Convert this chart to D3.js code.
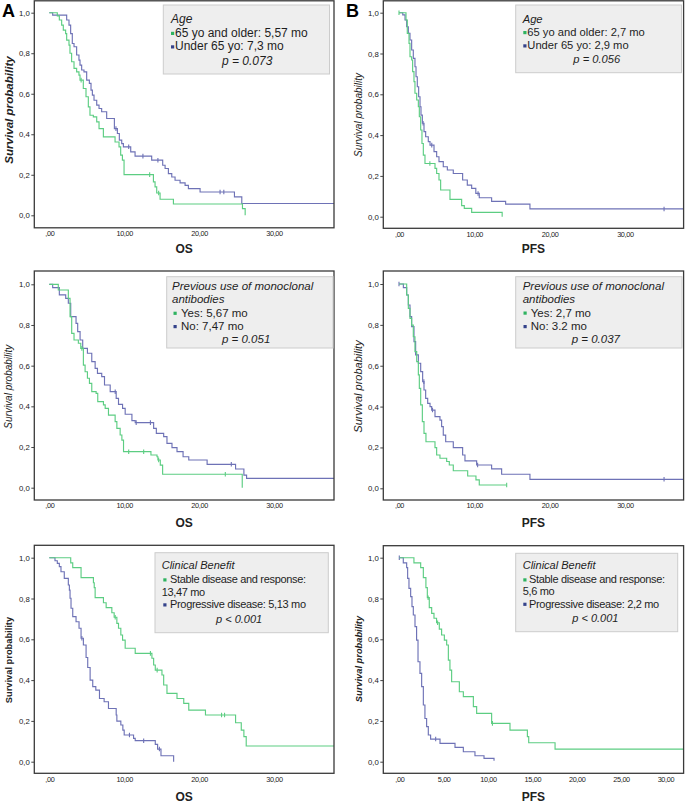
<!DOCTYPE html>
<html><head><meta charset="utf-8">
<script src="https://cdn.jsdelivr.net/npm/d3@7"></script>
<style>body{margin:0;background:#fff}svg{display:block}</style>
</head><body><svg id="c" width="685" height="802"></svg>
<script>
// ---------------- DATA ----------------
// step points: [time (months), survival after the drop]
const osOld = [[1.07,0.984],[1.34,0.964],[1.65,0.939],[1.87,0.914],[2.18,0.897],[2.32,0.865],[2.63,0.84],[2.76,0.8],[2.98,0.758],[3.3,0.725],[3.65,0.708],[3.96,0.692],[4.1,0.667],[4.54,0.626],[4.9,0.585],[5.21,0.535],[5.43,0.494],[5.88,0.486],[6.33,0.461],[6.64,0.428],[7.22,0.387],[8.78,0.362],[9.31,0.338],[9.53,0.297],[9.76,0.272],[9.98,0.201],[13.9,0.165],[14.12,0.14],[14.34,0.11],[14.79,0.079],[16.57,0.056],[25.79,0.033],[26.15,0]];
const osOldCens = [4.25,13.4,14.6];
const osYoung = [[0.45,0.988],[2.32,0.964],[2.63,0.939],[2.85,0.897],[3.07,0.848],[3.3,0.832],[3.65,0.791],[3.96,0.766],[4.1,0.741],[4.32,0.717],[4.63,0.708],[4.99,0.667],[5.35,0.651],[5.57,0.618],[5.75,0.593],[5.97,0.568],[6.33,0.544],[6.64,0.527],[6.99,0.511],[7.66,0.478],[8.69,0.428],[9.09,0.404],[9.35,0.371],[9.67,0.354],[9.89,0.338],[10.87,0.313],[11.45,0.292],[13.67,0.272],[15.14,0.247],[15.46,0.231],[15.9,0.206],[16.35,0.189],[16.79,0.173],[17.46,0.16],[18.13,0.148],[18.57,0.132],[20.13,0.115],[24.72,0.091],[25.7,0.058],[40,0.058]];
const osYoungCens = [8.9,10.6,12.5,14.5,22.8,23.3];

const pfsOld = [[0.93,0.964],[1.1,0.899],[1.33,0.85],[1.46,0.784],[1.68,0.768],[1.81,0.711],[1.99,0.662],[2.12,0.605],[2.35,0.572],[2.57,0.539],[2.7,0.49],[2.88,0.425],[3.05,0.359],[3.23,0.302],[3.45,0.261],[4.78,0.237],[5.0,0.212],[5.31,0.18],[5.53,0.131],[6.77,0.085],[8.32,0.054],[8.67,0.041],[9.65,0.021],[13.7,0]];
const pfsOldCens = [0,4.1];
const pfsYoung = [[0.5,0.989],[0.8,0.964],[1.02,0.931],[1.24,0.899],[1.46,0.866],[1.68,0.817],[1.9,0.776],[2.12,0.735],[2.26,0.686],[2.43,0.637],[2.61,0.588],[2.79,0.539],[2.92,0.498],[3.1,0.458],[3.32,0.417],[3.54,0.392],[3.89,0.368],[4.12,0.351],[4.65,0.319],[5.0,0.294],[5.31,0.27],[5.88,0.245],[6.42,0.229],[7.21,0.212],[8.45,0.18],[9.07,0.155],[9.65,0.139],[10.2,0.114],[10.66,0.093],[12.3,0.075],[14.16,0.062],[17.39,0.038],[40,0.038]];
const pfsYoungCens = [3.2,4.35,10.5,35.2];

const osMabYes = [[1.2,0.972],[2.54,0.931],[2.77,0.841],[2.99,0.759],[3.3,0.726],[3.88,0.71],[4.2,0.685],[4.55,0.603],[4.78,0.57],[5.09,0.538],[5.36,0.513],[5.67,0.472],[6.25,0.464],[6.47,0.423],[7.23,0.407],[7.46,0.39],[7.9,0.357],[8.79,0.325],[9.02,0.292],[9.46,0.259],[9.69,0.234],[9.91,0.177],[13.57,0.161],[14.38,0.152],[14.5,0.136],[14.82,0.111],[15.13,0.066],[25.76,0]];
const osMabYesCens = [4.35,10.6,12.6,14.6,23.5];
const osMabNo = [[0.45,0.984],[1.34,0.948],[2.19,0.931],[2.54,0.907],[2.86,0.841],[3.57,0.808],[3.79,0.767],[4.11,0.726],[4.46,0.685],[5.09,0.661],[5.67,0.62],[6.12,0.587],[6.43,0.562],[7.0,0.546],[7.37,0.505],[8.13,0.472],[8.93,0.439],[9.24,0.41],[9.78,0.39],[10.13,0.361],[11.03,0.33],[11.47,0.32],[13.93,0.292],[14.29,0.267],[15.27,0.251],[15.71,0.218],[16.38,0.197],[17.05,0.177],[17.86,0.152],[18.62,0.136],[21.07,0.115],[24.87,0.092],[25.98,0.062],[26.34,0.046],[40,0.046]];
const osMabNoCens = [8.8,11.6,13.5,24.3];

const pfsMabYes = [[1.02,0.946],[1.24,0.881],[1.46,0.832],[1.68,0.799],[1.9,0.742],[2.12,0.669],[2.35,0.62],[2.57,0.555],[2.7,0.489],[2.88,0.408],[3.1,0.326],[3.32,0.269],[3.58,0.228],[4.78,0.199],[5.0,0.163],[5.44,0.147],[6.33,0.131],[6.68,0.114],[7.21,0.086],[9.12,0.06],[10.22,0.041],[10.66,0.016],[14.3,0.016]];
const pfsMabYesCens = [14.3];
const pfsMabNo = [[0.58,0.982],[1.02,0.946],[1.24,0.897],[1.46,0.84],[1.68,0.791],[1.99,0.718],[2.21,0.653],[2.57,0.612],[2.88,0.571],[3.14,0.522],[3.32,0.481],[3.54,0.44],[3.81,0.416],[4.12,0.4],[4.34,0.383],[4.78,0.351],[5.44,0.334],[5.66,0.302],[5.88,0.26],[6.2,0.228],[7.21,0.199],[8.45,0.163],[8.76,0.134],[10.31,0.114],[12.3,0.095],[13.63,0.069],[17.39,0.044],[40,0.044]];
const pfsMabNoCens = [0,3.3,4.45,10.44,35.2];

const osCbYes = [[2.86,0.975],[3.13,0.951],[4.24,0.902],[5.89,0.877],[6.0,0.853],[6.12,0.804],[7.23,0.779],[7.59,0.755],[8.35,0.73],[8.66,0.708],[9.02,0.678],[9.24,0.654],[9.55,0.621],[9.78,0.596],[10.13,0.556],[11.47,0.531],[13.7,0.507],[13.93,0.474],[14.15,0.449],[15.04,0.425],[15.27,0.376],[15.71,0.335],[17.05,0.31],[17.95,0.286],[18.62,0.253],[20.85,0.229],[24.87,0.191],[25.63,0.155],[25.98,0.123],[26.29,0.077],[40,0.077]];
const osCbYesCens = [8.8,13.5,14.4,23.0,23.4];
const osCbNo = [[0.76,0.985],[1.07,0.972],[1.34,0.956],[1.56,0.931],[2.0,0.899],[2.54,0.866],[2.68,0.841],[2.77,0.801],[2.9,0.752],[3.13,0.711],[3.57,0.686],[3.97,0.654],[4.24,0.605],[4.55,0.572],[4.91,0.511],[5.13,0.462],[5.45,0.4],[5.8,0.368],[6.21,0.351],[6.7,0.31],[7.32,0.294],[7.9,0.261],[8.93,0.229],[9.02,0.199],[9.55,0.18],[9.82,0.155],[10.0,0.131],[11.25,0.114],[11.47,0.103],[14.15,0.085],[14.46,0.062],[14.91,0.029],[16.6,0]];
const osCbNoCens = [4.35,10.7,12.6,14.7];

const pfsCbYes = [[1.65,0.975],[2.41,0.951],[2.71,0.902],[3.0,0.853],[3.16,0.804],[3.38,0.755],[3.65,0.727],[3.91,0.703],[4.2,0.681],[4.51,0.65],[4.77,0.621],[5.08,0.596],[5.34,0.572],[5.53,0.498],[5.71,0.449],[5.9,0.392],[6.77,0.343],[7.22,0.319],[8.35,0.27],[8.72,0.237],[10.41,0.188],[12.48,0.155],[14.44,0.123],[14.59,0.093],[17.56,0.062],[40,0.062]];
const pfsCbYesCens = [3.25,4.32,10.5];
const pfsCbNo = [[0.45,0.975],[0.83,0.951],[0.94,0.899],[1.09,0.85],[1.28,0.809],[1.43,0.76],[1.58,0.719],[1.77,0.662],[1.95,0.596],[2.11,0.49],[2.33,0.433],[2.52,0.368],[2.71,0.278],[2.89,0.212],[3.08,0.172],[3.27,0.131],[3.53,0.111],[4.59,0.09],[6.28,0.07],[7.22,0.049],[8.53,0.029],[9.55,0.016],[10.68,0.005]];
const pfsCbNoCens = [0,4.1];

const yTickVals = [0,0.2,0.4,0.6,0.8,1.0];
const yTickText = ["0,0","0,2","0,4","0,6","0,8","1,0"];
const xTickValsMain = [0,10,20,30];
const xTickTextMain = [",00","10,00","20,00","30,00"];
const xTickValsCb = [0,5,10,15,20,25,30];
const xTickTextCb = [",00","5,00","10,00","15,00","20,00","25,00","30,00"];

const legAgeOs = ["Age","65 yo and older: 5,57 mo","Under 65 yo: 7,3 mo","p = 0.073"];
const legAgePfs = ["Age","65 yo and older: 2,7 mo","Under 65 yo: 2,9 mo","p = 0.056"];
const legMabOs = ["Previous use of monoclonal","antibodies","Yes: 5,67 mo","No: 7,47 mo","p = 0.051"];
const legMabPfs = ["Previous use of monoclonal","antibodies","Yes: 2,7 mo","No: 3.2 mo","p = 0.037"];
const legCbOs = ["Clinical Benefit","Stable disease and response:","13,47 mo","Progressive disease: 5,13 mo","p < 0.001"];
const legCbPfs = ["Clinical Benefit","Stable disease and response:","5,6 mo","Progressive disease: 2,2 mo","p < 0.001"];
const kindsAge = ["t","g","b","p"];
const kindsMab = ["t","t","g","b","p"];
const kindsCb = ["t","g","c","b","p"];

// ---------------- LAYOUT ----------------
const FONT = "'Liberation Sans', Arial, Helvetica, sans-serif";
const GREEN = "#5ccd82", BLUE = "#6e72b6";
const GREEN_M = "#2fb360", BLUE_M = "#34428a";

const panels = [
 {fr:[34.3,0.8,334,227.8], xr:[49.3,49.3+7.49*38], xd:[0,38], yr:[215.3,12.7], xt:xTickValsMain, xl:xTickTextMain, title:"OS", tY:252.5,
  g:osOld, gc:osOldCens, b:osYoung, bc:osYoungCens,
  leg:legAgeOs, kinds:kindsAge, box:[163.3,5,329.5,74], tx:171, mx:171, ix:175, base:[23,36.8,50.3,64.5], px:222, fs:12, ls:0,
  yl:{x:8.5,y:110,size:11.6,weight:"bold",style:"italic"}},
 {fr:[383.3,0.8,683.6,228.3], xr:[399,399+7.53*38], xd:[0,38], yr:[216.7,12.7], xt:xTickValsMain, xl:xTickTextMain, title:"PFS", tY:253,
  g:pfsOld, gc:pfsOldCens, b:pfsYoung, bc:pfsYoungCens,
  leg:legAgePfs, kinds:kindsAge, box:[515.7,5,681.5,72.7], tx:522.7, mx:523.3, ix:527.3, base:[23,36,49.3,63.3], px:573.3, fs:11.2, ls:0,
  yl:{x:358.3,y:115,size:10,weight:"normal",style:"italic"}},
 {fr:[34.3,271,334,500], xr:[49.3,49.3+7.49*38], xd:[0,38], yr:[487.7,284.3], xt:xTickValsMain, xl:xTickTextMain, title:"OS", tY:526.7,
  g:osMabYes, gc:osMabYesCens, b:osMabNo, bc:osMabNoCens,
  leg:legMabOs, kinds:kindsMab, box:[166.7,276.7,333,348], tx:172, mx:173.5, ix:181, base:[290,303,316.7,330,343.3], px:222, fs:11.5, ls:0,
  yl:{x:8.5,y:386.7,size:10,weight:"normal",style:"italic"}},
 {fr:[383.3,271,683.6,500], xr:[399,399+7.53*38], xd:[0,38], yr:[488.3,284], xt:xTickValsMain, xl:xTickTextMain, title:"PFS", tY:526.7,
  g:pfsMabYes, gc:pfsMabYesCens, b:pfsMabNo, bc:pfsMabNoCens,
  leg:legMabPfs, kinds:kindsMab, box:[515.7,276.7,682,348], tx:522.7, mx:523.5, ix:530.7, base:[290,303,316.5,330,343], px:571.7, fs:11.5, ls:0,
  yl:{x:358.3,y:386.5,size:11,weight:"normal",style:"italic"}},
 {fr:[34.3,545.3,334,773.3], xr:[49.3,49.3+7.49*38], xd:[0,38], yr:[761.7,557.7], xt:xTickValsMain, xl:xTickTextMain, title:"OS", tY:800.5,
  g:osCbYes, gc:osCbYesCens, b:osCbNo, bc:osCbNoCens,
  leg:legCbOs, kinds:kindsCb, box:[155,552.7,328.3,632.7], tx:161.7, mx:163.3, ix:170, base:[569.3,583.3,595.7,608.3,622.7], px:216, fs:11, ls:-0.33,
  yl:{x:8.5,y:660,size:9.3,weight:"bold",style:"normal"}},
 {fr:[383.3,545.7,683.6,773.3], xr:[399.3,399.3+8.87*32], xd:[0,32], yr:[761.7,557.7], xt:xTickValsCb, xl:xTickTextCb, title:"PFS", tY:800.5,
  g:pfsCbYes, gc:pfsCbYesCens, b:pfsCbNo, bc:pfsCbNoCens,
  leg:legCbPfs, kinds:kindsCb, box:[515.7,553.3,677.7,631.7], tx:522.7, mx:523.3, ix:529, base:[569.3,583.3,595.3,607.7,621.7], px:572.3, fs:11, ls:-0.33,
  yl:{x:358.3,y:659,size:9.3,weight:"bold",style:"italic"}}
];

const svg = d3.select("#c");
svg.append("rect").attr("width",685).attr("height",802).attr("fill","#fff");

function survAt(steps,t){let s=1;for(const [ti,si] of steps){if(ti<=t)s=si;else break;}return s;}

panels.forEach((p,i)=>{
  const [fx0,fy0,fx1,fy1]=p.fr;
  const x=d3.scaleLinear().domain(p.xd).range(p.xr);
  const y=d3.scaleLinear().domain([0,1]).range(p.yr);
  const g=svg.append("g");
  const cid="clip"+i;
  g.append("clipPath").attr("id",cid).append("rect").attr("x",fx0).attr("y",fy0).attr("width",fx1-fx0).attr("height",fy1-fy0);

  // axes
  const ya=d3.axisLeft(y).tickValues(yTickVals).tickFormat((d,k)=>yTickText[k]).tickSize(3).tickPadding(1.5);
  const yg=g.append("g").attr("transform",`translate(${fx0},0)`).call(ya);
  yg.select(".domain").remove();
  yg.selectAll("line").attr("stroke","#444");
  yg.selectAll("text").attr("font-family",FONT).attr("font-size",7.8).attr("fill","#222");
  const xa=d3.axisBottom(x).tickValues(p.xt).tickFormat((d,k)=>p.xl[k]).tickSize(0).tickPadding(3.2);
  const xg=g.append("g").attr("transform",`translate(0,${fy1})`).call(xa);
  xg.select(".domain").remove();
  xg.selectAll("text").attr("font-family",FONT).attr("font-size",7.3).attr("letter-spacing",-0.35).attr("fill","#222");

  // curves
  const line=d3.line().x(d=>x(d[0])).y(d=>y(d[1])).curve(d3.curveStepAfter);
  const cg=g.append("g").attr("clip-path",`url(#${cid})`);
  [[p.b,p.bc,BLUE],[p.g,p.gc,GREEN]].forEach(([steps,cens,col])=>{
    cg.append("path").attr("d",line([[0,1],...steps])).attr("fill","none").attr("stroke",col).attr("stroke-width",1.15);
    cg.selectAll(null).data(cens).enter().append("line")
      .attr("x1",d=>x(d)).attr("x2",d=>x(d))
      .attr("y1",d=>y(survAt(steps,d))-2.3).attr("y2",d=>y(survAt(steps,d))+2.3)
      .attr("stroke",col).attr("stroke-width",1.1);
  });

  // frame
  g.append("rect").attr("x",fx0).attr("y",fy0).attr("width",fx1-fx0).attr("height",fy1-fy0)
    .attr("fill","none").attr("stroke","#3a3a3a").attr("stroke-width",1.3);

  // legend
  const [bx0,by0,bx1,by1]=p.box;
  g.append("rect").attr("x",bx0).attr("y",by0).attr("width",bx1-bx0).attr("height",by1-by0)
    .attr("fill","#eeeeee").attr("stroke","#cccccc").attr("stroke-width",1);
  p.leg.forEach((txt,k)=>{
    const kind=p.kinds[k];
    let tx=p.tx, style="normal", ls=0;
    if(kind==="t"){style="italic";}
    if(kind==="g"||kind==="b"){
      tx=p.ix; ls=p.ls;
      g.append("rect").attr("x",p.mx).attr("y",p.base[k]-5).attr("width",3.2).attr("height",3.2)
        .attr("fill",kind==="g"?GREEN_M:BLUE_M);
    }
    if(kind==="c"){ls=p.ls;}
    if(kind==="p"){tx=p.px;style="italic";}
    g.append("text").attr("x",tx).attr("y",p.base[k]).text(txt)
      .attr("font-family",FONT).attr("font-size",p.fs).attr("font-style",style)
      .attr("letter-spacing",ls).attr("fill","#1e1e1e");
  });

  // axis titles
  g.append("text").attr("x",(fx0+fx1)/2).attr("y",p.tY).attr("text-anchor","middle")
    .attr("font-family",FONT).attr("font-size",12).attr("font-weight","bold").attr("fill","#222").text(p.title);
  g.append("text").attr("transform",`translate(${p.yl.x},${p.yl.y}) rotate(-90)`).attr("text-anchor","middle")
    .attr("dy","0.35em").attr("font-family",FONT).attr("font-size",p.yl.size).attr("font-weight",p.yl.weight)
    .attr("font-style",p.yl.style).attr("fill","#222").text("Survival probability");
});

svg.append("text").attr("x",2).attr("y",17).attr("font-family",FONT).attr("font-size",18).attr("font-weight","bold").text("A");
svg.append("text").attr("x",346).attr("y",16.5).attr("font-family",FONT).attr("font-size",18).attr("font-weight","bold").text("B");
</script></body></html>
